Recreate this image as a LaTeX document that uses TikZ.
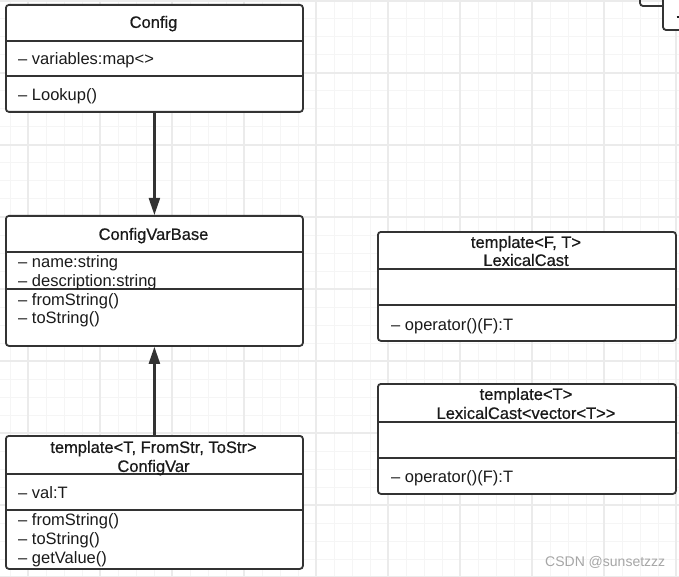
\documentclass[tikz,border=0pt]{standalone}
\usepackage{fontspec}
\setmainfont{Liberation Sans}[Ligatures=TeXOff]
\newfontfamily\umlheadfont{Liberation Sans}[Ligatures=TeXOff, FakeBold=0.6]
\usetikzlibrary{arrows.meta}
\definecolor{umlline}{HTML}{333333}
\definecolor{umltext}{HTML}{1A1A1A}
\definecolor{gridminor}{HTML}{F5F5F5}
\definecolor{gridmajor}{HTML}{EBEBEB}
\tikzset{
  classbox/.style={draw=umlline, line width=1.8pt, rounded corners=3pt, fill=white, anchor=north west, inner sep=0pt},
  divider/.style={draw=umlline, line width=1.6pt},
  title/.style={text=umltext, font=\umlheadfont\fontsize{16.5}{18}\selectfont, inner sep=0pt, text height=11.8pt, text depth=0pt},
  member/.style={text=umltext, font=\fontsize{16.5}{18}\selectfont, inner sep=0pt, anchor=west, text height=11.8pt, text depth=0pt},
  inherit/.style={draw=umlline, line width=2.2pt, -{Triangle[length=17pt,width=11pt]}},
}
\begin{document}
\begin{tikzpicture}[x=1pt, y=-1pt]
    \useasboundingbox (0,0) rectangle (679,577);
    \clip (0,0) rectangle (679,577);
    \fill[white] (0,0) rectangle (679,577);

    % grid
    \foreach \x in {10,28,...,676} \draw[gridminor, line width=1pt] (\x,0) -- (\x,577);
    \foreach \y in {1,19,...,577} \draw[gridminor, line width=1pt] (0,\y) -- (679,\y);
    \foreach \x in {28,100,...,676} \draw[gridmajor, line width=1.2pt] (\x,0) -- (\x,577);
    \foreach \y in {1,73,...,577} \draw[gridmajor, line width=1.2pt] (0,\y) -- (679,\y);

    % boxes cut by the top right corner
    \draw[draw=umlline, line width=1.8pt, rounded corners=3pt] (640,-10) -- (640,6) -- (700,6);
    \draw[draw=umlline, line width=1.8pt, rounded corners=3pt, fill=white] (663,-10) -- (663,30) -- (700,30) -- (700,-10);
    \draw[draw=umltext, line width=1.2pt] (676.5,17) -- (682,17);

    % Config
    \node[classbox, minimum width=297pt, minimum height=107pt] (config) at (5,4) {};
    \draw[divider] (5,41) -- (302,41);
    \draw[divider] (5,76) -- (302,76);
    \node[title] (configT) at (153.5,22) {Config};
    \node[member] (configA) at (18,59) {– variables:map<>};
    \node[member] (configM) at (18,95) {– Lookup()};

    % ConfigVarBase
    \node[classbox, minimum width=297pt, minimum height=130pt] (cvbase) at (5,215) {};
    \draw[divider] (5,252) -- (302,252);
    \draw[divider] (5,289) -- (302,289);
    \node[title] (cvbaseT) at (153.5,234) {ConfigVarBase};
    \node[member] (cvbaseA) at (18,262) {– name:string};
    \node[member] (cvbaseB) at (18,281) {– description:string};
    \node[member] (cvbaseM) at (18,300) {– fromString()};
    \node[member] (cvbaseN) at (18,318) {– toString()};

    % ConfigVar
    \node[classbox, minimum width=297pt, minimum height=133pt] (cvar) at (5,435) {};
    \draw[divider] (5,474) -- (302,474);
    \draw[divider] (5,510) -- (302,510);
    \node[title] (cvarT) at (153.5,447) {template<T, FromStr, ToStr>};
    \node[title] (cvarU) at (153.5,466) {ConfigVar};
    \node[member] (cvarA) at (18,493) {– val:T};
    \node[member] (cvarM) at (18,520) {– fromString()};
    \node[member] (cvarN) at (18,539) {– toString()};
    \node[member] (cvarO) at (18,558) {– getValue()};

    % LexicalCast
    \node[classbox, minimum width=298pt, minimum height=109pt] (lexcast) at (377,231) {};
    \draw[divider] (377,269) -- (675,269);
    \draw[divider] (377,305) -- (675,305);
    \node[title] (lexcastT) at (526,242) {template<F, T>};
    \node[title] (lexcastU) at (526,260) {LexicalCast};
    \node[member] (lexcastM) at (391,325) {– operator()(F):T};

    % LexicalCast<vector<T>>
    \node[classbox, minimum width=298pt, minimum height=110pt] (lexvec) at (377,383) {};
    \draw[divider] (377,422) -- (675,422);
    \draw[divider] (377,458) -- (675,458);
    \node[title] (lexvecT) at (526,394) {template<T>};
    \node[title] (lexvecU) at (526,413) {LexicalCast<vector<T>>};
    \node[member] (lexvecM) at (391,477) {– operator()(F):T};

    \draw[inherit] (config) -- (cvbase);
    \draw[inherit] (cvar) -- (cvbase);

    \node[text=black!35, font=\fontsize{14}{16}\selectfont, anchor=west, inner sep=0pt] (mark) at (545,562) {CSDN @sunsetzzz};
\end{tikzpicture}
\end{document}
